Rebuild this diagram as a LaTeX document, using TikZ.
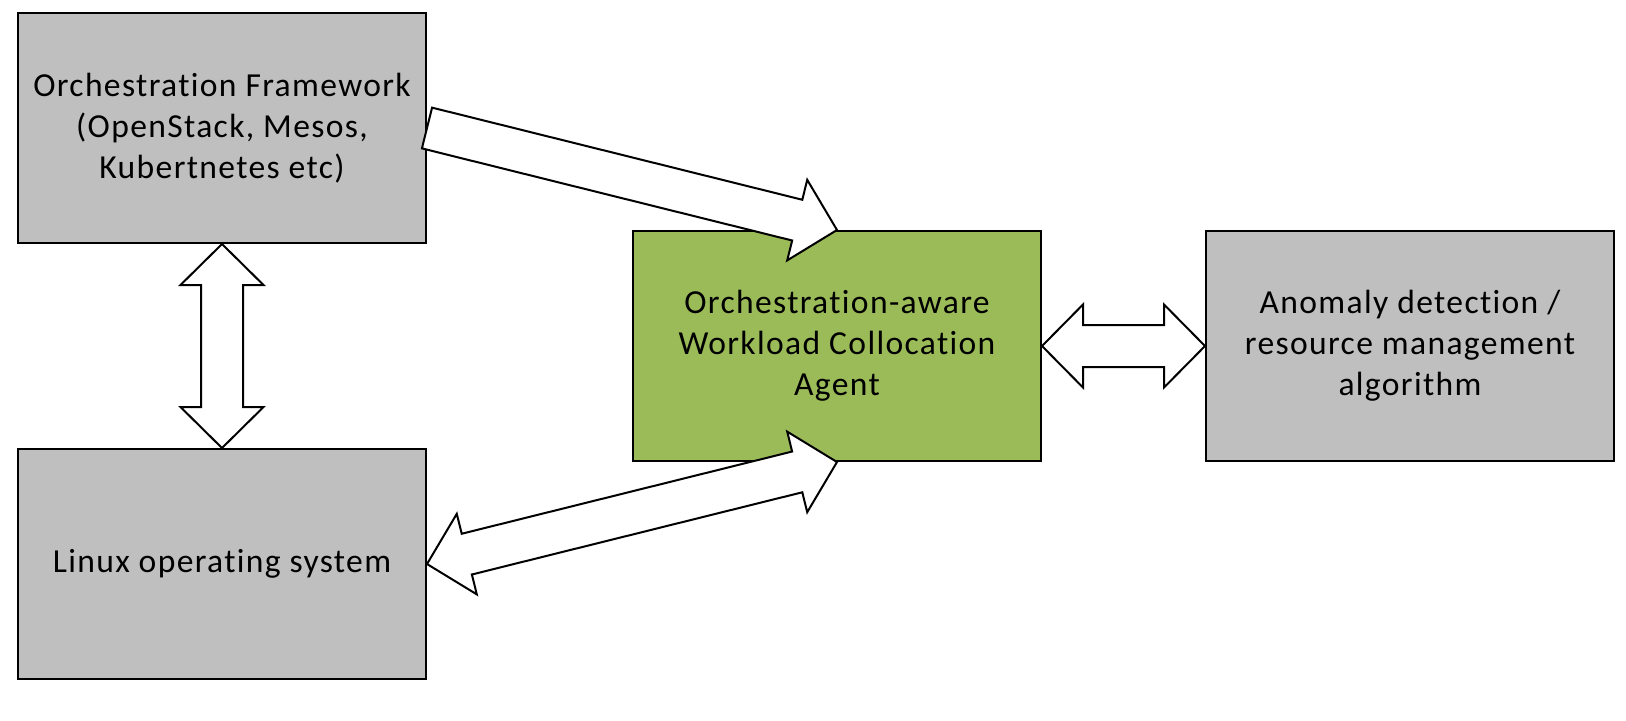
\documentclass[tikz,border=0pt]{standalone}
\usepackage{fontspec}
\setmainfont{Carlito}[LetterSpace=4,Ligatures=NoCommon]
\usepackage{tikz}
\usetikzlibrary{calc,positioning}

\definecolor{boxgray}{RGB}{191,191,191}
\definecolor{agentgreen}{RGB}{155,187,89}

\newcommand{\shaftw}{10.5pt}
\newcommand{\headw}{20.75pt}
\newcommand{\headl}{20.5pt}

\newcommand{\fatsingle}[2]{%
  \coordinate (hb) at ($(#2)!\headl!(#1)$);
  \draw[fatarrow] ($(#1)!\shaftw!90:(#2)$) -- ($(hb)!\shaftw!-90:(#1)$)
    -- ($(hb)!\headw!-90:(#1)$) -- (#2) -- ($(hb)!\headw!90:(#1)$)
    -- ($(hb)!\shaftw!90:(#1)$) -- ($(#1)!\shaftw!-90:(#2)$) -- cycle;}

\newcommand{\fatdouble}[2]{%
  \coordinate (ha) at ($(#1)!\headl!(#2)$);
  \coordinate (hb) at ($(#2)!\headl!(#1)$);
  \draw[fatarrow] (#1) -- ($(ha)!\headw!90:(#2)$) -- ($(ha)!\shaftw!90:(#2)$)
    -- ($(hb)!\shaftw!-90:(#1)$) -- ($(hb)!\headw!-90:(#1)$) -- (#2)
    -- ($(hb)!\headw!90:(#1)$) -- ($(hb)!\shaftw!90:(#1)$)
    -- ($(ha)!\shaftw!-90:(#2)$) -- ($(ha)!\headw!-90:(#2)$) -- cycle;}

\begin{document}
\begin{tikzpicture}[x=0.5pt,y=-0.5pt,
                    every node/.style={font=\fontsize{16.8}{20.5}\selectfont},
                    graybox/.style={draw=black,line width=1pt,fill=boxgray,
                      minimum width=204pt,minimum height=115pt,align=center,inner sep=0pt},
                    greenbox/.style={graybox,fill=agentgreen},
                    fatarrow/.style={draw=black,line width=1pt,fill=white,line join=miter}]

  \useasboundingbox (0,0) rectangle (1626,720);

  \node[graybox] (orch) at (222,128)
        {Orchestration Framework\\(OpenStack, Mesos,\\Kubertnetes etc)};
  \node[graybox] (linux) [below=102pt of orch]   {Linux operating system};

  \coordinate (mid) at ($(orch.east)!0.5!(linux.east)$);
  \node[greenbox] (agent) [right=102.5pt of mid]
        {Orchestration-aware\\Workload Collocation\\Agent};
  \node[graybox] (anomaly) [right=81.5pt of agent]
        {Anomaly detection /\\resource management\\algorithm};

  \fatsingle{orch.east}{agent.north}
  \fatdouble{orch.south}{linux.north}
  \fatdouble{linux.east}{agent.south}
  \fatdouble{agent.east}{anomaly.west}

\end{tikzpicture}
\end{document}
